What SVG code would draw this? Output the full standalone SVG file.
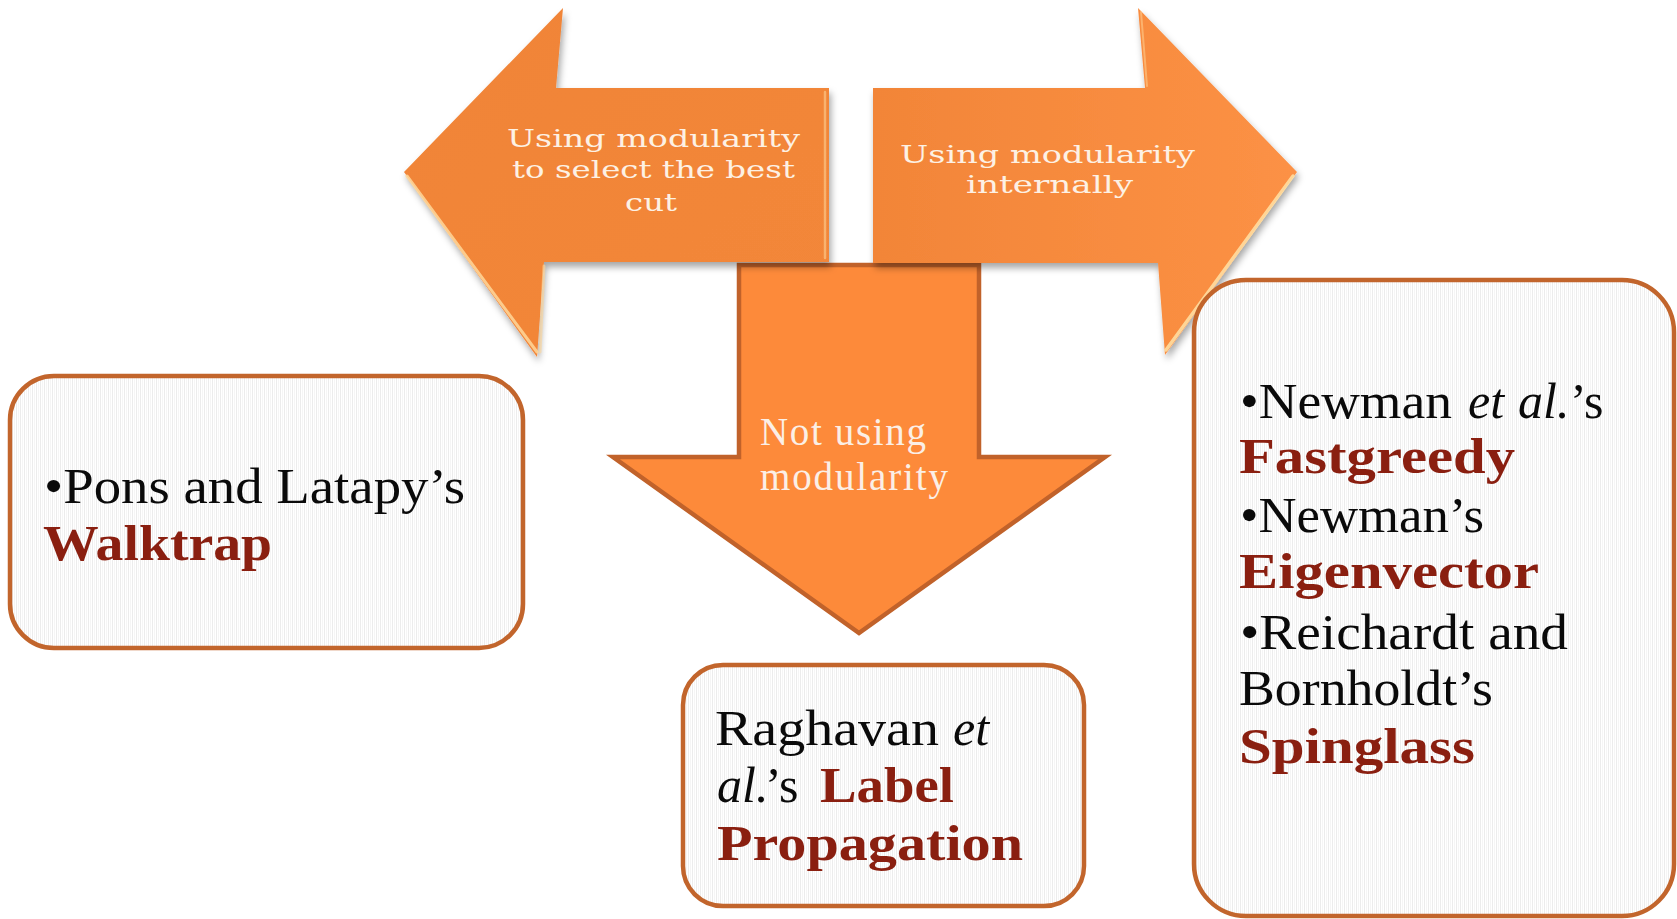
<svg xmlns="http://www.w3.org/2000/svg" width="1677" height="919" viewBox="0 0 1677 919">
<defs>
<style>
.box{fill:url(#tex);stroke:#C2652C;stroke-width:4.5}
.t{font-family:"Liberation Serif","Times New Roman",serif;font-size:50px;fill:#0a0a0a}
.b{font-family:"Liberation Serif","Times New Roman",serif;font-size:50px;font-weight:bold;fill:#8A1F10}
.i{font-style:italic}
.at{font-family:"DejaVu Serif","Liberation Serif",serif;font-size:25px;fill:#FDF1E4}
.dt{font-family:"Liberation Serif","Times New Roman",serif;font-size:39px;fill:#FBEFE6}
.hl{fill:none;stroke:#FFD79A;stroke-width:3;stroke-linecap:round;opacity:0.85}
</style>
<pattern id="tex" width="4" height="4" patternUnits="userSpaceOnUse">
<rect width="4" height="4" fill="#ffffff"/>
<rect x="0" width="1" height="4" fill="#ececec"/>
<rect x="2" width="1" height="4" fill="#f5f5f5"/>
</pattern>
<linearGradient id="gl" x1="0" y1="0" x2="1" y2="1">
<stop offset="0" stop-color="#F08437"/>
<stop offset="1" stop-color="#F3873A"/>
</linearGradient>
<linearGradient id="gr" x1="0" y1="0" x2="1" y2="0">
<stop offset="0" stop-color="#F28538"/>
<stop offset="1" stop-color="#FC9145"/>
</linearGradient>
<filter id="sh" x="-10%" y="-10%" width="130%" height="130%">
<feDropShadow dx="2" dy="5" stdDeviation="3.5" flood-color="#000" flood-opacity="0.35"/>
</filter>
</defs>
<rect width="1677" height="919" fill="#ffffff"/>

<g id="arrow-down">
<polygon points="739,265 979,265 979,457 1105,457 859,633 613,457 739,457" fill="#FD8A3A" stroke="#C1622A" stroke-width="4.5" stroke-linejoin="miter"/>
<text class="dt" x="760" y="445" textLength="166" lengthAdjust="spacing">Not using</text>
<text class="dt" x="760" y="490" textLength="188" lengthAdjust="spacing">modularity</text>
</g>

<g id="arrow-left">
<polygon points="404,172 563,8 556,88 829,88 829,262 544,262 537,357" fill="url(#gl)" filter="url(#sh)"/>
<polyline class="hl" points="407,176 537,352"/>
<polyline class="hl" points="540,352 544,266" style="opacity:0.6"/>
<polyline class="hl" points="825,92 825,258" style="opacity:0.55;stroke-width:2.5"/>
<text class="at" x="507" y="147" textLength="293" lengthAdjust="spacingAndGlyphs">Using modularity</text>
<text class="at" x="512" y="178" textLength="283" lengthAdjust="spacingAndGlyphs">to select the best</text>
<text class="at" x="625" y="211" textLength="52" lengthAdjust="spacingAndGlyphs">cut</text>
</g>

<g id="arrow-right">
<polygon points="873,88 1145,88 1138,8 1297,172 1165,355 1158,263 873,263" fill="url(#gr)" filter="url(#sh)"/>
<polyline class="hl" points="1293,176 1166,350" style="stroke:#FFE2A6;stroke-width:3.5"/>
<polyline class="hl" points="1141,12 1147,86" style="opacity:0.5;stroke-width:2"/>
<text class="at" x="900" y="163" textLength="295" lengthAdjust="spacingAndGlyphs">Using modularity</text>
<text class="at" x="966" y="193" textLength="167" lengthAdjust="spacingAndGlyphs">internally</text>
</g>

<g id="box-walktrap">
<rect class="box" x="10" y="376" width="513" height="272" rx="44" ry="44"/>
<text class="t" x="44" y="503" textLength="421" lengthAdjust="spacingAndGlyphs">•Pons and Latapy’s</text>
<text class="b" x="43" y="560" textLength="229" lengthAdjust="spacingAndGlyphs">Walktrap</text>
</g>

<g id="box-label">
<rect class="box" x="683" y="665" width="401" height="241" rx="40" ry="40"/>
<text class="t" y="745"><tspan x="715" textLength="224" lengthAdjust="spacingAndGlyphs">Raghavan</tspan><tspan class="i" x="953">et</tspan></text>
<text class="t" y="802"><tspan class="i" x="717">al.</tspan><tspan x="765">’s</tspan><tspan class="b" x="820" textLength="134" lengthAdjust="spacingAndGlyphs">Label</tspan></text>
<text class="b" x="717" y="860" textLength="306" lengthAdjust="spacingAndGlyphs">Propagation</text>
</g>

<g id="box-modularity">
<rect class="box" x="1194" y="280" width="480" height="636" rx="52" ry="52"/>
<text class="t" y="418"><tspan x="1240" textLength="212" lengthAdjust="spacingAndGlyphs">•Newman</tspan><tspan class="i" x="1468">et</tspan><tspan class="i" x="1518">al.</tspan><tspan x="1570">’s</tspan></text>
<text class="b" x="1239" y="473" textLength="276" lengthAdjust="spacingAndGlyphs">Fastgreedy</text>
<text class="t" x="1240" y="532" textLength="244" lengthAdjust="spacingAndGlyphs">•Newman’s</text>
<text class="b" x="1239" y="588" textLength="300" lengthAdjust="spacingAndGlyphs">Eigenvector</text>
<text class="t" x="1240" y="649" textLength="328" lengthAdjust="spacingAndGlyphs">•Reichardt and</text>
<text class="t" x="1239" y="705" textLength="254" lengthAdjust="spacingAndGlyphs">Bornholdt’s</text>
<text class="b" x="1239" y="763" textLength="236" lengthAdjust="spacingAndGlyphs">Spinglass</text>
</g>
</svg>
